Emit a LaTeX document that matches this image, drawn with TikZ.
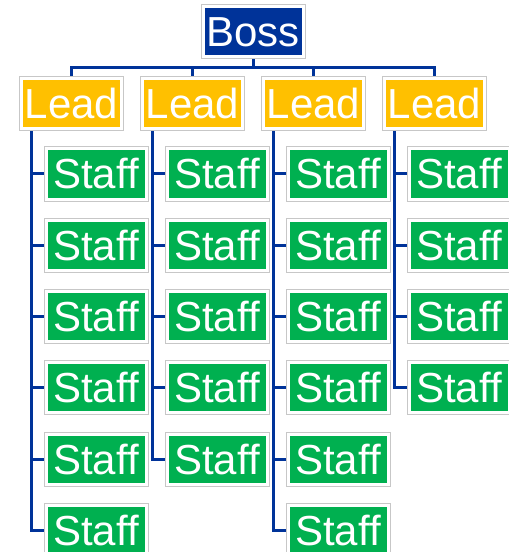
\documentclass[tikz,border=0pt]{standalone}
\usepackage{fontspec}
\setmainfont{Liberation Sans}
\usetikzlibrary{positioning,calc,backgrounds}
\definecolor{bossblue}{RGB}{0,51,153}
\definecolor{leadgold}{RGB}{255,192,0}
\definecolor{staffgreen}{RGB}{0,176,80}

\begin{document}
\begin{tikzpicture}[
  x=0.75pt,y=-0.75pt,
  box/.style={draw=white,line width=2.25pt,minimum width=75pt,minimum height=37.5pt,
    inner sep=0pt,outer sep=0pt,text=white,font=\fontsize{31.5}{36}\selectfont,
    text height=22.5pt,text depth=0pt,
    preaction={draw=black!22,line width=3.75pt}},
  bossbox/.style={box,fill=bossblue},
  leadbox/.style={box,fill=leadgold},
  staffbox/.style={box,fill=staffgreen},
  link/.style={draw=bossblue,line width=2.25pt}
]
\useasboundingbox (0,0) rectangle (508,552);
\node[bossbox] (boss) at (253,32) {Boss};
% leads and their staff columns
\foreach \i/\n in {1/6,2/5,3/6,4/4} {
  \node[leadbox] (lead\i) at ({71.5+121*(\i-1)},103.5) {Lead};
  \foreach \k in {1,...,\n}
    \node[staffbox] (staff\i-\k) at ($(lead\i)+(24.5,{70.5+71.25*(\k-1)})$) {Staff};
}
\begin{scope}[on background layer]
\foreach \i/\n in {1/6,2/5,3/6,4/4} {
  \draw[link] (boss.south) -- ++(0,11) -| (lead\i.north);
  \foreach \k in {1,...,\n}
    \draw[link] ($(lead\i.south)+(-40,0)$) |- (staff\i-\k.west);
}
\end{scope}
\end{tikzpicture}
\end{document}
